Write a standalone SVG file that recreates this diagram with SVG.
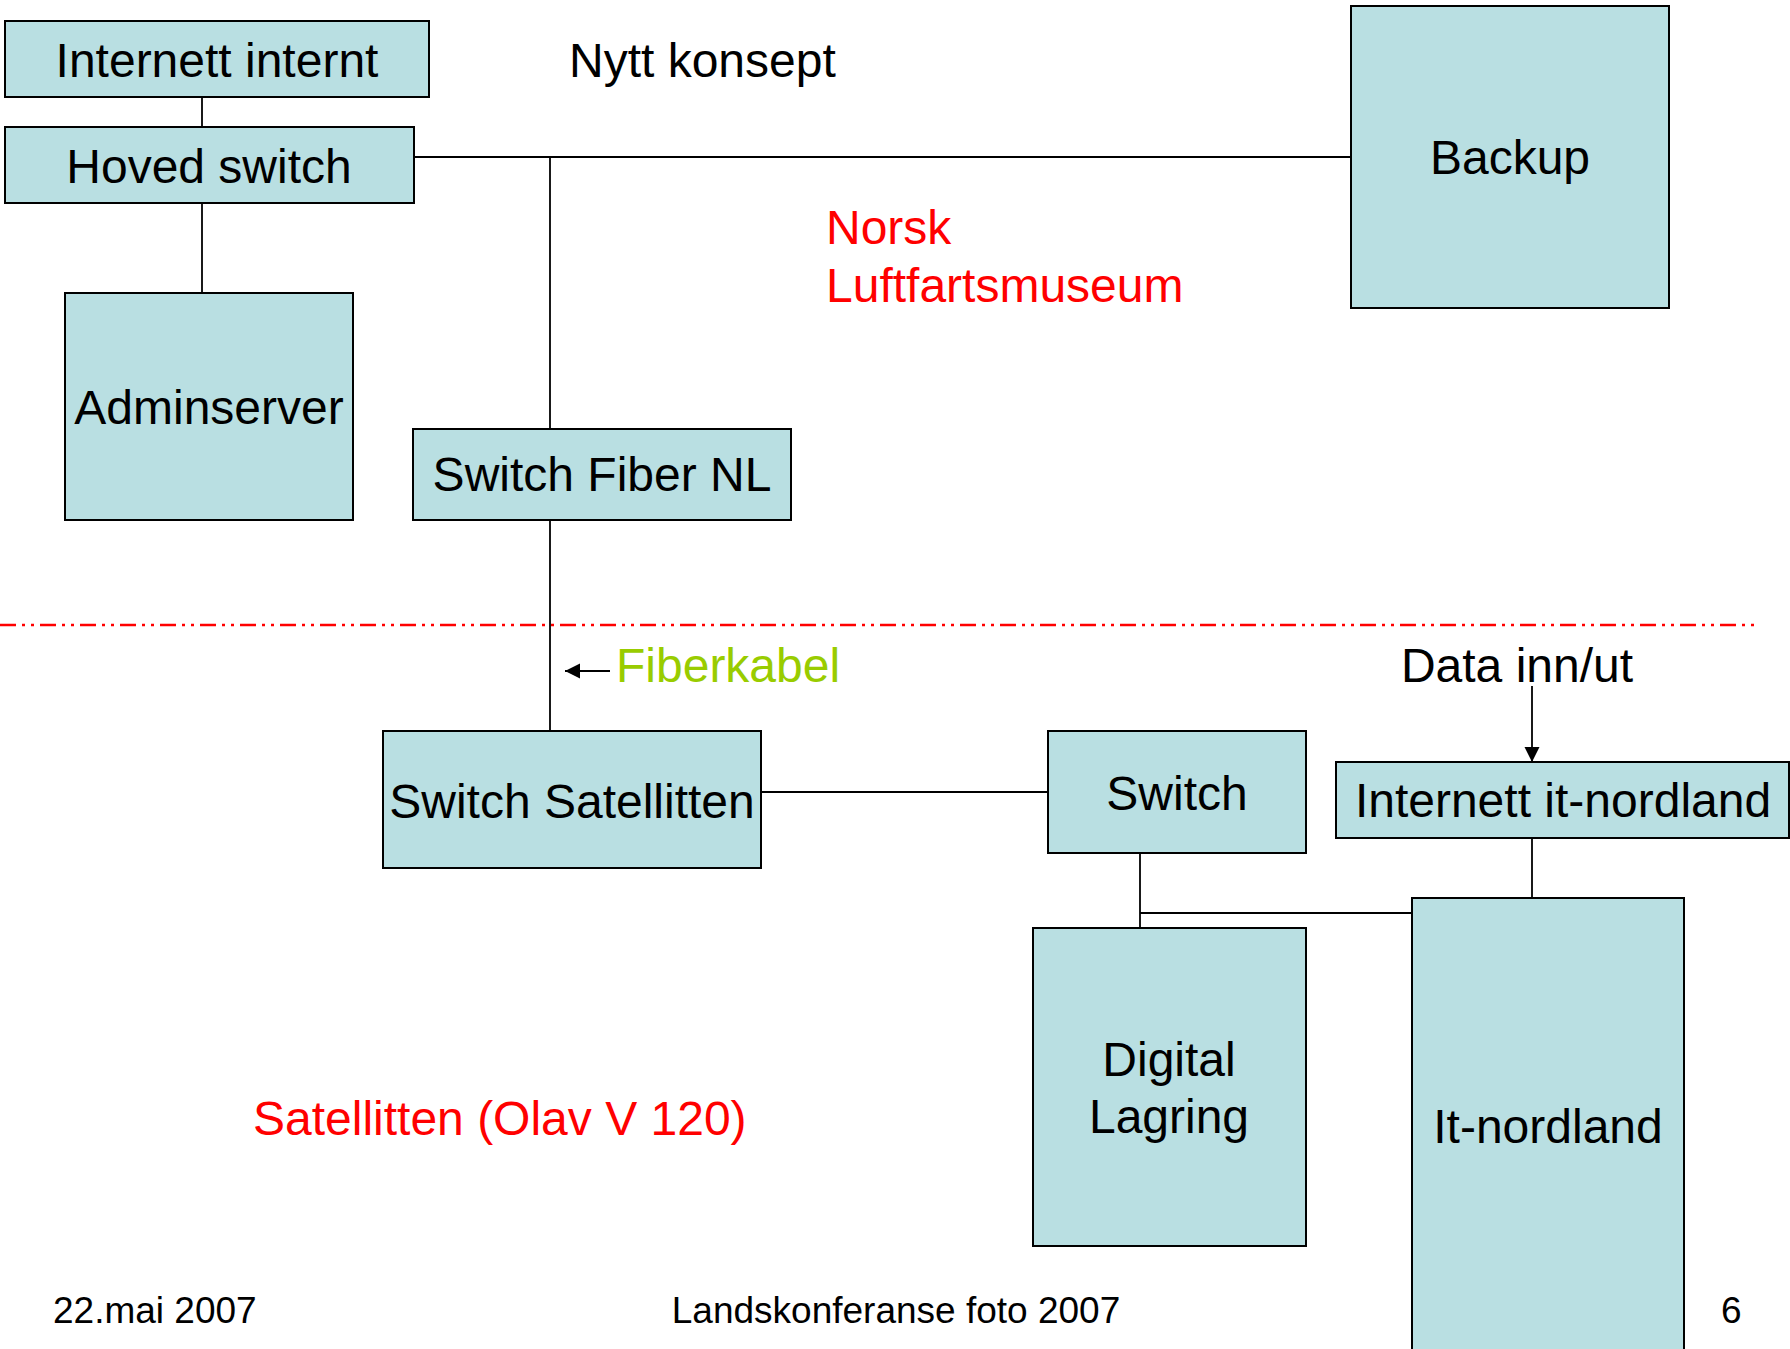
<svg xmlns="http://www.w3.org/2000/svg" width="1790" height="1349" viewBox="0 0 1790 1349">
<style>
.box{fill:#b9dfe2;stroke:#000;stroke-width:2}
.t{font-family:"Liberation Sans",Arial,sans-serif;font-size:48px;fill:#000}
.c{text-anchor:middle}
.red{fill:#ff0000}
.ln{stroke:#000;stroke-width:1.8;fill:none}
.foot{font-family:"Liberation Sans",Arial,sans-serif;font-size:37px;fill:#000}
</style>
<defs>
<marker id="ah" markerWidth="16" markerHeight="16" refX="15" refY="7.5" orient="auto" markerUnits="userSpaceOnUse">
<path d="M0,0 L15,7.5 L0,15 Z" fill="#000"/>
</marker>
</defs>
<rect width="1790" height="1349" fill="#fff"/>

<g id="connectors">
<line class="ln" x1="202" y1="97" x2="202" y2="127"/>
<line class="ln" x1="202" y1="203" x2="202" y2="293"/>
<line class="ln" x1="414" y1="157" x2="1351" y2="157"/>
<line class="ln" x1="550" y1="157" x2="550" y2="429"/>
<line class="ln" x1="550" y1="520" x2="550" y2="731"/>
<line class="ln" x1="761" y1="792" x2="1048" y2="792"/>
<line class="ln" x1="1140" y1="853" x2="1140" y2="928"/>
<line class="ln" x1="1140" y1="913" x2="1412" y2="913"/>
<line class="ln" x1="1532" y1="838" x2="1532" y2="898"/>
<line class="ln" x1="1532" y1="686" x2="1532" y2="762" marker-end="url(#ah)"/>
<line class="ln" x1="610" y1="671" x2="565" y2="671" marker-end="url(#ah)"/>
</g>

<line x1="0" y1="625" x2="1756" y2="625" stroke="#ff0000" stroke-width="2.5" stroke-dasharray="16 6 3 6 3 6"/>

<g id="internett-internt"><rect class="box" x="5" y="21" width="424" height="76"/><text class="t c" x="217" y="77">Internett internt</text></g>
<g id="hoved-switch"><rect class="box" x="5" y="127" width="409" height="76"/><text class="t c" x="209" y="183">Hoved switch</text></g>
<g id="adminserver"><rect class="box" x="65" y="293" width="288" height="227"/><text class="t c" x="209" y="424">Adminserver</text></g>
<g id="switch-fiber-nl"><rect class="box" x="413" y="429" width="378" height="91"/><text class="t c" x="602" y="491">Switch Fiber NL</text></g>
<g id="backup"><rect class="box" x="1351" y="6" width="318" height="302"/><text class="t c" x="1510" y="174">Backup</text></g>
<g id="switch-satellitten"><rect class="box" x="383" y="731" width="378" height="137"/><text class="t c" x="572" y="818">Switch Satellitten</text></g>
<g id="switch"><rect class="box" x="1048" y="731" width="258" height="122"/><text class="t c" x="1177" y="810">Switch</text></g>
<g id="internett-it-nordland"><rect class="box" x="1336" y="762" width="453" height="76"/><text class="t c" x="1563" y="817">Internett it-nordland</text></g>
<g id="digital-lagring"><rect class="box" x="1033" y="928" width="273" height="318"/><text class="t c" x="1169" y="1076">Digital</text><text class="t c" x="1169" y="1133">Lagring</text></g>
<g id="it-nordland"><rect class="box" x="1412" y="898" width="272" height="470"/><text class="t c" x="1548" y="1143">It-nordland</text></g>

<g id="labels">
<text class="t" x="569" y="77">Nytt konsept</text>
<text class="t red" x="826" y="244">Norsk</text>
<text class="t red" x="826" y="302">Luftfartsmuseum</text>
<text class="t" x="616" y="682" style="fill:#99cc00">Fiberkabel</text>
<text class="t c" x="1517" y="682">Data inn/ut</text>
<text class="t red" x="253" y="1135">Satellitten (Olav V 120)</text>
<text class="foot" x="53" y="1323">22.mai 2007</text>
<text class="foot c" x="896" y="1323">Landskonferanse foto 2007</text>
<text class="foot" x="1721" y="1323">6</text>
</g>
</svg>
